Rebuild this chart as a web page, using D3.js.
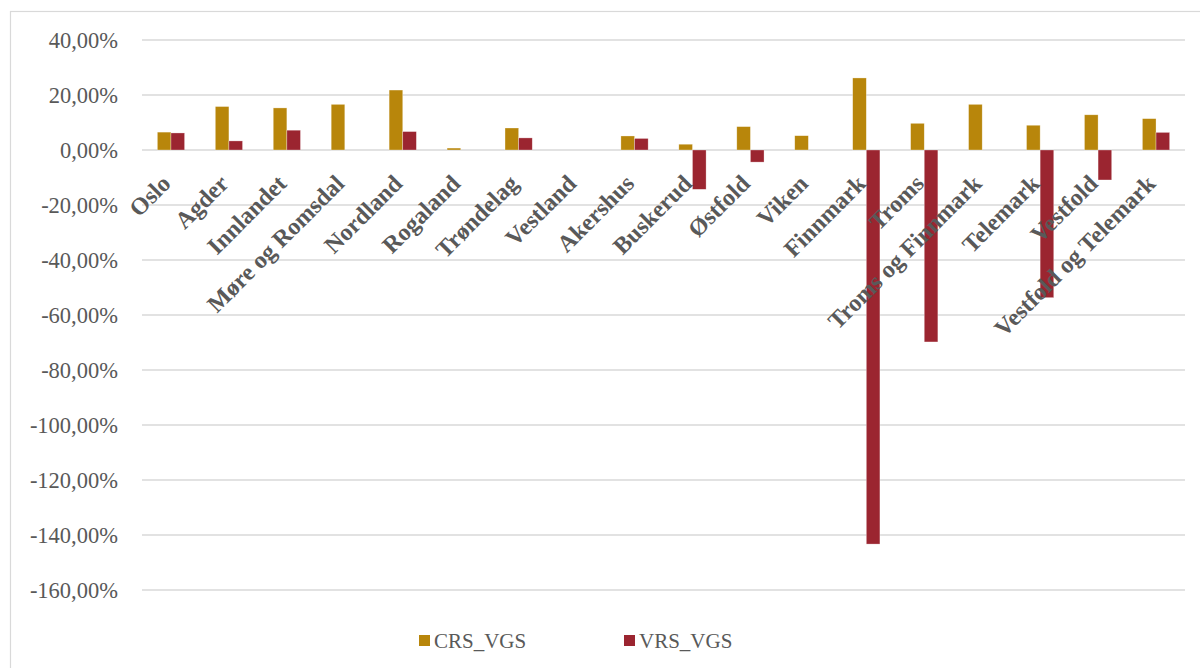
<!DOCTYPE html>
<html><head><meta charset="utf-8">
<script src="https://cdn.jsdelivr.net/npm/d3@7"></script>
<style>body{margin:0;background:#fff;}svg{display:block;}</style>
</head><body>
<svg id="chart" width="1200" height="668"></svg>
<script>
const categories = ["Oslo","Agder","Innlandet","Møre og Romsdal","Nordland","Rogaland","Trøndelag","Vestland","Akershus","Buskerud","Østfold","Viken","Finnmark","Troms","Troms og Finnmark","Telemark","Vestfold","Vestfold og Telemark"];
const crs = [6.5,15.8,15.3,16.6,21.8,0.7,8.0,0,5.1,2.1,8.5,5.2,26.2,9.7,16.6,9.0,12.8,11.4];
const vrs = [6.2,3.3,7.2,0,6.7,0,4.4,0,4.2,-14.3,-4.4,0,-143.3,-69.8,0,-53.7,-10.9,6.4];
const seriesNames = ["CRS_VGS","VRS_VGS"];
const yTicks = [40,20,0,-20,-40,-60,-80,-100,-120,-140,-160];
const colors = ["#B8860B","#9B2530"];

const svg = d3.select("#chart");
svg.append("rect").attr("x",10.5).attr("y",11.5).attr("width",1300).attr("height",800)
  .attr("fill","#fff").attr("stroke","#d9d9d9").attr("stroke-width",1.2);

const left = 142, right = 1185;
const y = d3.scaleLinear().domain([40,-160]).range([40,590]);
const x = d3.scaleBand().domain(categories).range([left,right]).paddingInner(0.53).paddingOuter(0.265);
const x1 = d3.scaleBand().domain(seriesNames).range([0,x.bandwidth()]);

// gridlines
svg.append("g").selectAll("line").data(yTicks).join("line")
  .attr("x1",left).attr("x2",right).attr("y1",d=>y(d)).attr("y2",d=>y(d))
  .attr("stroke","#d9d9d9").attr("stroke-width",1.5);

const fmt = v => d3.format(".2f")(v).replace(".",",").replace("\u2212","-") + "%";
svg.append("g").selectAll("text").data(yTicks).join("text")
  .attr("x",118).attr("y",d=>y(d)).attr("dy","0.35em").attr("text-anchor","end")
  .attr("font-family","'Liberation Serif','Times New Roman',serif").attr("font-size",22.5)
  .attr("fill","#595959").text(d=>fmt(d));

const data = categories.map((c,i)=>({c, vals:[crs[i],vrs[i]]}));
const groups = svg.append("g").selectAll("g").data(data).join("g")
  .attr("transform",d=>`translate(${x(d.c)},0)`);
groups.selectAll("rect").data(d=>d.vals.map((v,j)=>({v,j}))).join("rect")
  .attr("x",d=>x1(seriesNames[d.j])).attr("width",x1.bandwidth())
  .attr("y",d=>Math.min(y(d.v),y(0))).attr("height",d=>Math.abs(y(d.v)-y(0)))
  .attr("fill",d=>colors[d.j]).attr("stroke","#fff").attr("stroke-opacity",0.5).attr("stroke-width",0.6);

// category labels
svg.append("g").selectAll("text").data(categories).join("text")
  .attr("transform",d=>`translate(${x(d)+x.bandwidth()/2+1},185) rotate(-45)`)
  .attr("text-anchor","end")
  .attr("font-family","'Liberation Serif','Times New Roman',serif").attr("font-size",24).attr("font-weight","bold")
  .attr("fill","#595959").text(d=>d);

// legend
const leg = svg.append("g");
const legX = [419,624];
seriesNames.forEach((s,i)=>{
  leg.append("rect").attr("x",legX[i]).attr("y",635).attr("width",11).attr("height",11).attr("fill",colors[i]);
  leg.append("text").attr("x",legX[i]+15).attr("y",641).attr("dy","0.35em")
    .attr("font-family","'Liberation Serif','Times New Roman',serif").attr("font-size",21)
    .attr("fill","#595959").text(s);
});
</script>
</body></html>
